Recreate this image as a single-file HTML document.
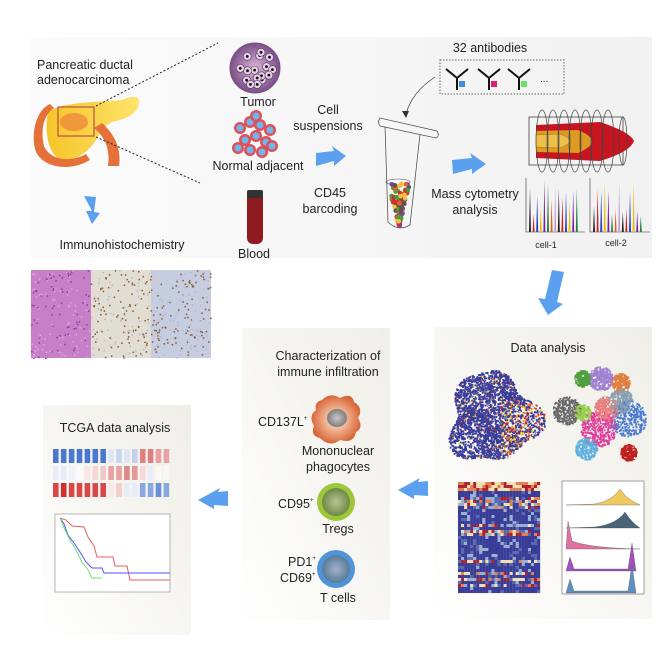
<!DOCTYPE html>
<html><head><meta charset="utf-8"><style>
html,body{margin:0;padding:0;background:#fff}
svg{display:block}
text{font-family:"Liberation Sans",Arial,sans-serif;fill:#222}
</style></head><body>
<svg id="s" width="664" height="664" viewBox="0 0 664 664" xmlns="http://www.w3.org/2000/svg">
<defs>
<linearGradient id="gTop" x1="0" x2="1" y1="0" y2="0"><stop offset="0" stop-color="#fbfbfb"/><stop offset="1" stop-color="#f1f1f1"/></linearGradient>
<linearGradient id="gB" x1="0" x2="1" y1="1" y2="0"><stop offset="0" stop-color="#ffffff"/><stop offset="0.6" stop-color="#f5f4ef"/><stop offset="1" stop-color="#efeee8"/></linearGradient>
<radialGradient id="gGrey"><stop offset="0" stop-color="#c8c8c8"/><stop offset="1" stop-color="#7d7d7d"/></radialGradient>
<radialGradient id="gOr"><stop offset="0.3" stop-color="#f6c6a8"/><stop offset="1" stop-color="#d9683a"/></radialGradient>
<radialGradient id="gTreg"><stop offset="0" stop-color="#b9c492"/><stop offset="1" stop-color="#6c8a45"/></radialGradient>
<radialGradient id="gT"><stop offset="0" stop-color="#9db3c6"/><stop offset="1" stop-color="#5a7a96"/></radialGradient>
<radialGradient id="gTum"><stop offset="0" stop-color="#d8b8d6"/><stop offset="1" stop-color="#7a4f86"/></radialGradient>
<linearGradient id="gP" x1="0" x2="1"><stop offset="0" stop-color="#f5c52a"/><stop offset="1" stop-color="#fde36a"/></linearGradient>
</defs>
<rect x="30" y="37" width="622" height="221" fill="url(#gTop)"/>
<rect x="434" y="327" width="218" height="292" fill="url(#gB)"/>
<rect x="242" y="328" width="148" height="292" fill="url(#gB)"/>
<rect x="43" y="405" width="148" height="230" fill="url(#gB)"/>

<text x="37" y="69" font-size="12.5">Pancreatic ductal</text>
<text x="37" y="84" font-size="12.5">adenocarcinoma</text>
<path d="M48,112 C60,102 100,102 122,100 C130,96 138,96 139,100 C140,110 132,118 112,122 L102,128 C96,145 80,162 62,160 C48,156 44,130 48,112 Z" fill="url(#gP)"/>
<path d="M50,104 C36,110 30,135 36,152 C44,168 70,172 90,160 L86,154 C70,163 50,160 44,146 C40,130 44,114 54,108Z" fill="#e4703a"/>
<path d="M94,128 C106,138 110,150 108,166 L119,166 C122,146 112,132 102,123Z" fill="#e4703a"/>
<ellipse cx="74" cy="122" rx="14" ry="9" fill="#ef8a3c" opacity="0.8"/>
<rect x="58" y="107" width="36" height="29" fill="none" stroke="#b0334a" stroke-width="1"/>
<line x1="96" y1="106" x2="218" y2="43" stroke="#222" stroke-dasharray="2,2"/>
<line x1="96" y1="137" x2="200" y2="183" stroke="#222" stroke-dasharray="2,2"/>
<path d="M84,196 L96,197 L94,212 L100,213 L92,224 L86,211 L92,211 Z" fill="#5aa0ee"/>
<text x="122" y="249" font-size="12.5" text-anchor="middle">Immunohistochemistry</text>
<rect x="31" y="270" width="60" height="88" fill="#c780c8"/>
<rect x="91" y="270" width="60" height="88" fill="#e2ddd2"/>
<rect x="151" y="270" width="60" height="88" fill="#c7cde0"/>
<g id="ihc"></g>

<circle cx="255" cy="68" r="25" fill="url(#gTum)" stroke="#7a4f86"/>
<g id="tum"></g>
<text x="258" y="106" font-size="12.5" text-anchor="middle">Tumor</text>
<g id="norm"></g>
<text x="258" y="170" font-size="12.5" text-anchor="middle">Normal adjacent</text>
<rect x="247" y="192" width="16" height="52" rx="6" fill="#8e1a22"/>
<rect x="247" y="190" width="16" height="8" rx="2" fill="#333"/>
<text x="254" y="258" font-size="12.5" text-anchor="middle">Blood</text>
<text x="328" y="114" font-size="12.5" text-anchor="middle">Cell</text>
<text x="328" y="130" font-size="12.5" text-anchor="middle">suspensions</text>
<path d="M316,153 L334,151 L332,146 L346,156 L334,166 L334,161 L316,166 Z" fill="#5aa0ee"/>
<text x="330" y="197" font-size="12.5" text-anchor="middle">CD45</text>
<text x="330" y="213" font-size="12.5" text-anchor="middle">barcoding</text>

<path d="M385,125 L420,134 L410,225 Q398,232 388,222 Z" fill="none" stroke="#555" stroke-width="0.8"/>
<ellipse cx="398" cy="182" rx="12" ry="3" fill="none" stroke="#555" stroke-width="0.6"/>
<path d="M380,118 L437,131 Q440,136 436,138 L380,126 Q377,122 380,118 Z" fill="#f6f6f6" stroke="#555" stroke-width="0.8"/>
<g id="beads"></g>
<path d="M435,77 Q412,92 406,114" fill="none" stroke="#333" stroke-width="0.7"/>
<path d="M402,111 L406,118 L409,111 Z" fill="#333"/>
<text x="490" y="52" font-size="12.5" text-anchor="middle">32 antibodies</text>
<rect x="440" y="60" width="124" height="34" fill="none" stroke="#666" stroke-dasharray="1.5,1.5"/>
<g stroke="#111" stroke-width="2" fill="none">
<path d="M446,69 L457,78 L468,69 M457,78 L457,90"/><path d="M478,69 L489,78 L500,69 M489,78 L489,90"/><path d="M508,69 L519,78 L530,69 M519,78 L519,90"/>
</g>
<rect x="459" y="81" width="6" height="6" fill="#3d8de0"/><rect x="491" y="81" width="6" height="6" fill="#d81e6d"/><rect x="521" y="81" width="6" height="6" fill="#6be36a"/>
<text x="540" y="82" font-size="10">...</text>
<path d="M452,160 L472,158 L470,153 L486,164 L472,174 L472,169 L453,174 Z" fill="#5aa0ee"/>
<text x="475" y="198" font-size="12.5" text-anchor="middle">Mass cytometry</text>
<text x="475" y="214" font-size="12.5" text-anchor="middle">analysis</text>
<rect x="529" y="117" width="94" height="48" fill="none" stroke="#444" stroke-width="0.8"/>
<path d="M536,125 L600,122 Q630,132 634,141 Q630,152 600,161 L536,158 Z" fill="#c7141e"/>
<path d="M536,131 L578,130 Q592,136 592,141 Q592,147 578,153 L536,152 Z" fill="#dc9a22"/>
<path d="M536,135 L560,134 Q570,138 570,141 Q570,144 560,148 L536,147 Z" fill="#edc04a" stroke="#8a6a10" stroke-width="0.4"/>
<g id="coils" fill="none" stroke="#444" stroke-width="0.7"></g>
<g id="spec"></g>
<text x="546" y="248" font-size="9" text-anchor="middle">cell-1</text>
<text x="616" y="246" font-size="9" text-anchor="middle">cell-2</text>
<path d="M552,270 L564,272 L557,302 L563,304 L548,315 L538,298 L545,299 Z" fill="#5aa0ee"/>

<text x="548" y="352" font-size="12.5" text-anchor="middle">Data analysis</text>
<g id="tsne"></g>
<g id="hm"></g>
<rect x="562" y="481" width="82" height="113" fill="#fff" stroke="#777" stroke-width="0.7"/>
<g id="hist"></g>
<path d="M428,481 L418,482 L420,478 L398,490 L414,499 L414,495 L428,496 Z" fill="#5aa0ee"/>

<text x="328" y="360" font-size="12.5" text-anchor="middle">Characterization of</text>
<text x="328" y="376" font-size="12.5" text-anchor="middle">immune infiltration</text>
<path d="M322,400 Q330,392 340,398 Q352,392 354,402 Q364,408 358,418 Q364,428 356,432 Q354,444 340,440 Q330,448 320,438 Q310,436 314,426 Q308,416 316,410 Q314,402 322,400 Z" fill="url(#gOr)"/>
<ellipse cx="337" cy="418" rx="10" ry="9" fill="url(#gGrey)"/>
<text x="258" y="426" font-size="12.5">CD137L<tspan font-size="6" dy="-6">+</tspan></text>
<text x="338" y="455" font-size="12.5" text-anchor="middle">Mononuclear</text>
<text x="338" y="471" font-size="12.5" text-anchor="middle">phagocytes</text>
<circle cx="336" cy="502" r="19" fill="#9dc63a"/><circle cx="336" cy="502" r="14" fill="url(#gTreg)"/>
<text x="278" y="508" font-size="12.5">CD95<tspan font-size="6" dy="-6">+</tspan></text>
<text x="338" y="533" font-size="12.5" text-anchor="middle">Tregs</text>
<circle cx="336" cy="569" r="19" fill="#4f93d9"/><circle cx="336" cy="569" r="14" fill="url(#gT)"/>
<text x="288" y="566" font-size="12.5">PD1<tspan font-size="6" dy="-6">+</tspan></text>
<text x="280" y="582" font-size="12.5">CD69<tspan font-size="6" dy="-6">+</tspan></text>
<text x="338" y="602" font-size="12.5" text-anchor="middle">T cells</text>
<path d="M228,491 L218,492 L220,488 L198,500 L214,509 L214,505 L228,506 Z" fill="#5aa0ee"/>

<text x="115" y="432" font-size="12.5" text-anchor="middle">TCGA data analysis</text>
<g id="tc"></g>
<rect x="55" y="514" width="115" height="78" fill="#fff" stroke="#999" stroke-width="0.7"/>
<g fill="none" stroke-width="1">
<polyline points="60,518 66,520 72,526 84,527 88,537 94,546 97,557 113,557 115,566 127,566 130,580 170,580" stroke="#e06060"/>
<polyline points="60,518 64,524 68,535 74,543 80,552 86,562 92,568 102,568 104,573 170,573" stroke="#5050ff"/>
<polyline points="60,518 64,528 70,540 76,550 82,562 88,570 92,578 102,578" stroke="#70e070"/>
</g>
</svg>
<script>
(function(){
var s=7;function r(){s=(s*16807)%2147483647;return s/2147483647;}
var NS="http://www.w3.org/2000/svg";
function el(g,t,a){var e=document.createElementNS(NS,t);for(var k in a)e.setAttribute(k,a[k]);document.getElementById(g).appendChild(e);return e;}
for(var i=0;i<500;i++){var x=31+r()*180,y=270+r()*88;var c=x<91?(r()<.5?"#8a3a9a":"#e0a8e0"):(r()<.6?"#8a5a2a":"#b0b8d8");el("ihc","rect",{x:x,y:y,width:1.5,height:1.5,fill:c});}
for(var i=0;i<16;i++){var a=r()*6.28,d=Math.sqrt(r())*20;el("tum","circle",{cx:255+Math.cos(a)*d,cy:68+Math.sin(a)*d,r:4,fill:"#e8d0e4",stroke:"#5a2f66","stroke-width":.6});el("tum","circle",{cx:255+Math.cos(a)*d,cy:68+Math.sin(a)*d,r:1.4,fill:"#111"});}
var np=[[240,128],[250,122],[260,125],[270,130],[245,140],[256,136],[266,142],[238,148],[250,150],[262,152],[272,146],[256,116]];
np.forEach(function(p){el("norm","circle",{cx:p[0],cy:p[1],r:6,fill:"#e05058"});el("norm","circle",{cx:p[0],cy:p[1],r:3.5,fill:"#6db8ee"});});
var bc=["#7a3fa0","#e0622a","#4a9a3a","#f0c040","#555","#d03030"];
for(var i=0;i<110;i++){var y=184+r()*42,w=Math.max(1,(228-y)/44*11);var x=399+(r()*2-1)*w;el("beads","circle",{cx:x,cy:y,r:2.3,fill:bc[Math.floor(r()*6)]});}
for(var i=0;i<7;i++){el("coils","ellipse",{cx:542+i*11,cy:141,rx:6,ry:31});}
el("coils","ellipse",{cx:623,cy:141,rx:4,ry:24});
var sc=["#222","#d02020","#2040c0","#e0c000","#8020a0","#208040","#e06020","#c0a0d0"];
[[526,585],[590,650]].forEach(function(b){el("spec","path",{d:"M"+b[0]+",178 L"+b[0]+",232 L"+b[1]+",232",fill:"none",stroke:"#333","stroke-width":.6});
for(var i=0;i<14;i++){var x=b[0]+4+i*3.6,h=15+r()*37;el("spec","path",{d:"M"+(x-1)+",232 L"+x+","+(232-h)+" L"+(x+1)+",232Z",fill:sc[i%8]});}});
// tsne1 irregular
var tc=["#e03020","#f0e040","#ffffff","#f08030"];
for(var i=0;i<3000;i++){var a=r()*6.28,d=Math.sqrt(r());var rad=44+6*Math.sin(a*3+1)+4*Math.cos(a*5);var x=492+Math.cos(a)*d*rad,y=417+Math.sin(a)*d*rad;var red=(x>500&&y>400&&r()<.35);var c=(red||r()<.08)?tc[Math.floor(r()*4)]:"#3a3d98";el("tsne","rect",{x:x,y:y,width:1.8,height:1.8,fill:c});}
// tsne2 packed clusters
var cl=[["#6a6a6a",566,410,14],["#e0409a",598,428,18],["#4a7ad0",628,418,18],["#c02020",628,452,8],["#50a040",582,378,8],["#e08040",620,382,9],["#a080d0",600,378,12],["#60b0e0",586,448,11],["#8aa0b0",620,400,12],["#e88080",606,408,12],["#9ad050",582,412,8]];
for(var i=0;i<4000;i++){var k=cl[Math.floor(r()*cl.length)];var a=r()*6.28,d=Math.sqrt(r())*k[3];el("tsne","rect",{x:k[1]+Math.cos(a)*d,y:k[2]+Math.sin(a)*d,width:1.8,height:1.8,fill:r()<.06?"#f0f0f0":k[0]});}
// heatmap mostly blue
var hc=["#3a3d98","#5a6ab0","#9ab0d0","#f0e0b0","#e08050","#b02030"];
var rowHot=[];for(var j=0;j<37;j++)rowHot.push(r()<.35?1:0);
for(var j=0;j<37;j++)for(var i=0;i<27;i++){var v;if(j<3)v=3+Math.floor(r()*3);else if(rowHot[j])v=Math.floor(r()*6);else v=r()<.7?0:Math.floor(r()*3);el("hm","rect",{x:458+i*3.04,y:482+j*3,width:3.1,height:3.05,fill:hc[v]});}
var hh=[["#f0c860",505,620,"peak"],["#4a6378",528,625,"peak"],["#e070a0",549,569,"left"],["#a050c0",571,632,"both"],["#6090c0",593,632,"both"]];
hh.forEach(function(h){var y=h[1],d;if(h[3]=="peak")d="M566,"+y+" L595,"+(y-1)+" Q"+(h[2]-8)+","+(y-4)+" "+h[2]+","+(y-16)+" Q"+(h[2]+6)+","+(y-6)+" 640,"+y+"Z";
else if(h[3]=="left")d="M566,"+y+" L568,"+(y-28)+" L572,"+(y-8)+" Q590,"+(y-1)+" 640,"+y+"Z";
else d="M566,"+y+" L570,"+(y-14)+" L574,"+(y-2)+" L628,"+(y-2)+" L"+h[2]+","+(y-28)+" L636,"+y+"Z";
el("hist","path",{d:d,fill:h[0],stroke:"#444","stroke-width":.3});});
var rows=[["#4a78d0","#4a78d0","#4a78d0","#4a78d0","#4a78d0","#4a78d0","#4a78d0","#dde6f6","#c8d6f0","#dde6f6","#c0d0ee","#e08080","#e08080","#e8a0a0","#e8a0a0"],
["#e6ecf8","#e6ecf8","#eef2fa","#fbfbfb","#f8e6e6","#f4d6d6","#f0c8c8","#e8a0a0","#e8a0a0","#e08888","#e49898","#f4dada","#e6ecf8","#fbf8f6","#faf6f4"],
["#d84848","#d03030","#d84848","#d84848","#d84848","#d84848","#d84848","#fae8e8","#f4cccc","#e6ecf8","#e6ecf8","#8aa8e0","#8aa8e0","#6a90d8","#8aa8e0"]];
rows.forEach(function(rw,j){rw.forEach(function(c,i){el("tc","rect",{x:53+i*7.9,y:449+j*17,width:5.6,height:14,fill:c});});});
})();
</script>
</body></html>
